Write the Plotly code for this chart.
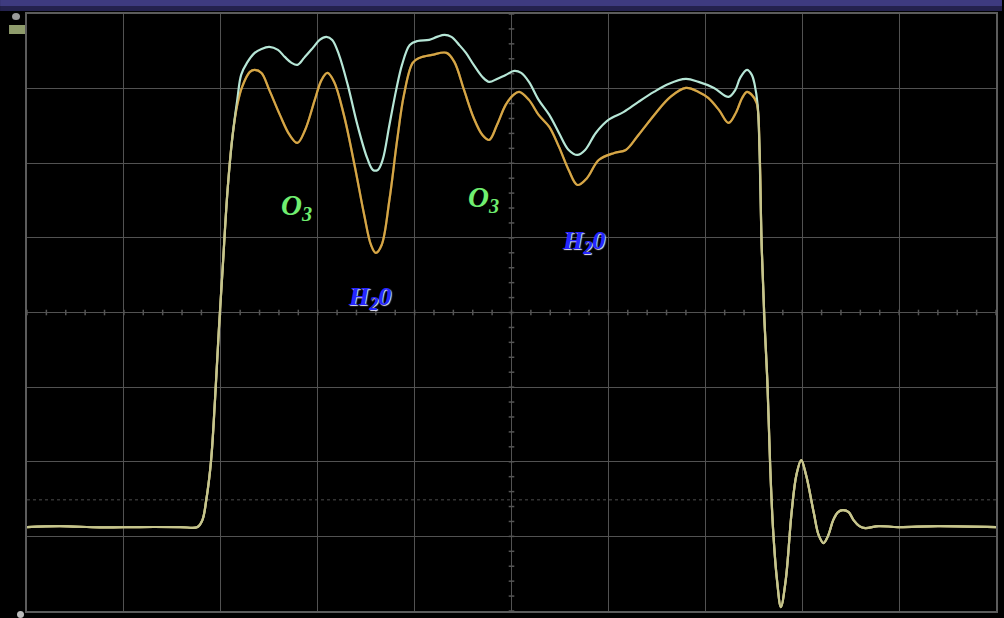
import plotly.graph_objects as go
import numpy as np

# ---- data (time in divisions 0..10, amplitude in divisions -4..4) ----
# shared baseline + rising edge (both traces coincide)
rise_x = [0.00, 0.34, 0.75, 1.16, 1.58, 1.76, 1.81, 1.85, 1.90, 1.94, 1.98, 2.02, 2.07, 2.12]
rise_y = [-2.875, -2.862, -2.880, -2.875, -2.875, -2.875, -2.782, -2.513, -1.977, -1.173,
          -0.235, 0.610, 1.642, 2.353]

# top part, lower (orange) trace
orange_x = [2.17, 2.22, 2.30, 2.35, 2.42, 2.50, 2.61, 2.71, 2.79, 2.87, 2.97, 3.04, 3.10, 3.17,
            3.27, 3.38, 3.48, 3.55, 3.60, 3.66, 3.74, 3.82, 3.89, 3.98, 4.05, 4.18, 4.33, 4.41,
            4.51, 4.61, 4.70, 4.77, 4.85, 4.94, 5.02, 5.08, 5.18, 5.28, 5.39, 5.49, 5.59, 5.68,
            5.78, 5.90, 6.06, 6.18, 6.31, 6.49, 6.64, 6.80, 6.93, 7.03, 7.14, 7.24, 7.32, 7.38,
            7.43, 7.48, 7.53]
orange_y = [2.782, 3.023, 3.224, 3.251, 3.210, 2.983, 2.648, 2.379, 2.272, 2.446, 2.849, 3.117,
            3.210, 3.090, 2.648, 1.977, 1.307, 0.905, 0.798, 0.905, 1.508, 2.312, 2.916, 3.345,
            3.412, 3.452, 3.479, 3.358, 2.983, 2.607, 2.379, 2.312, 2.513, 2.782, 2.916, 2.956,
            2.849, 2.648, 2.487, 2.219, 1.910, 1.709, 1.803, 2.044, 2.138, 2.178, 2.379, 2.674,
            2.889, 3.009, 2.956, 2.875, 2.715, 2.540, 2.688, 2.875, 2.956, 2.916, 2.808]

# top part, upper (cyan) trace
cyan_x = [2.17, 2.21, 2.27, 2.35, 2.42, 2.50, 2.59, 2.66, 2.73, 2.79, 2.86, 2.95, 3.02, 3.09,
          3.15, 3.22, 3.31, 3.41, 3.51, 3.57, 3.62, 3.67, 3.74, 3.81, 3.87, 3.95, 4.03, 4.15,
          4.23, 4.31, 4.38, 4.46, 4.53, 4.61, 4.70, 4.77, 4.85, 4.94, 5.03, 5.10, 5.18, 5.28,
          5.39, 5.49, 5.59, 5.68, 5.76, 5.87, 6.00, 6.16, 6.31, 6.47, 6.62, 6.80, 6.93, 7.09,
          7.24, 7.31, 7.36, 7.43, 7.48, 7.51, 7.54]
cyan_y = [2.849, 3.184, 3.345, 3.479, 3.532, 3.559, 3.519, 3.425, 3.345, 3.318, 3.412, 3.546,
          3.653, 3.693, 3.653, 3.452, 3.050, 2.513, 2.071, 1.910, 1.910, 2.044, 2.513, 2.983,
          3.318, 3.586, 3.639, 3.653, 3.693, 3.720, 3.693, 3.586, 3.479, 3.318, 3.157, 3.090,
          3.130, 3.184, 3.237, 3.210, 3.090, 2.849, 2.648, 2.406, 2.178, 2.111, 2.178, 2.406,
          2.580, 2.688, 2.822, 2.956, 3.063, 3.130, 3.090, 3.009, 2.889, 2.983, 3.144, 3.251,
          3.184, 3.050, 2.782]

# shared falling edge + ringing + baseline
fall_x = [7.56, 7.58, 7.61, 7.64, 7.67, 7.70, 7.74, 7.78, 7.83, 7.89, 7.94, 7.99, 8.04, 8.12,
          8.17, 8.22, 8.27, 8.32, 8.37, 8.42, 8.48, 8.53, 8.59, 8.65, 8.79, 8.99, 9.40, 10.00]
fall_y = [2.178, 0.972, -0.101, -0.905, -2.071, -2.916, -3.586, -3.948, -3.586, -2.688, -2.178,
          -1.977, -2.178, -2.688, -2.983, -3.090, -2.983, -2.782, -2.674, -2.647, -2.674, -2.782,
          -2.862, -2.889, -2.862, -2.875, -2.862, -2.875]

labels = [
    ("O<sub>3</sub>", 2.78, 1.41, "#70ee70", 29),
    ("O<sub>3</sub>", 4.71, 1.52, "#70ee70", 29),
    ("H<sub>2</sub>0", 3.53, 0.19, "#2626ff", 26),
    ("H<sub>2</sub>0", 5.74, 0.95, "#2626ff", 26),
]

YELLOW = "#d6a646"
CYAN = "#b6e6d6"

ox = rise_x + orange_x + fall_x
oy = rise_y + orange_y + fall_y
cx = rise_x + cyan_x + fall_x
cy = rise_y + cyan_y + fall_y

fig = go.Figure()
# minor ticks on centre cross
tick_pos_x = np.round(np.arange(0, 10.001, 0.2), 3)
tick_pos_y = np.round(np.arange(-4, 4.001, 0.2), 3)
fig.add_trace(go.Scatter(x=tick_pos_x, y=[0] * len(tick_pos_x), mode="markers",
                         marker=dict(symbol="line-ns", size=4, line=dict(color="#555555", width=1.5)),
                         hoverinfo="skip"))
fig.add_trace(go.Scatter(x=[5] * len(tick_pos_y), y=tick_pos_y, mode="markers",
                         marker=dict(symbol="line-ew", size=4, line=dict(color="#555555", width=1.5)),
                         hoverinfo="skip"))

fig.add_trace(go.Scatter(x=ox, y=oy, mode="lines", line=dict(color=YELLOW, width=2.2),
                         line_shape="spline"))
fig.add_trace(go.Scatter(x=cx, y=cy, mode="lines", line=dict(color=CYAN, width=2.2),
                         line_shape="spline"))
fig.add_trace(go.Scatter(x=ox, y=oy, mode="lines", line=dict(color=YELLOW, width=2.2),
                         line_shape="spline", opacity=0.5))

for txt, x, y, col, sz in labels:
    fig.add_annotation(x=x, y=y, xref="x", yref="y", text=f"<b><i>{txt}</i></b>",
                       showarrow=False,
                       font=dict(family="Liberation Serif", size=sz, color=col,
                                 shadow="1px 1px 1px #e8e8ff" if col == "#2626ff" else "none"))

# page geometry helpers (plot area 27..998 x 14..611 px)
L, T, W, H = 27, 14, 971, 597
def px(v):
    return (v - L) / W
def py(v):
    return (T + H - v) / H

shapes = [
    # faint dotted reference level
    dict(type="line", xref="x", yref="y", x0=0, x1=10, y0=-2.51, y1=-2.51,
         line=dict(color="#333333", width=1.5, dash="dot"), layer="below"),
    # top bar
    dict(type="rect", xref="paper", yref="paper", x0=px(0), x1=px(1004), y0=py(6), y1=py(0),
         fillcolor="#3e3b80", line=dict(width=0), layer="above"),
    dict(type="rect", xref="paper", yref="paper", x0=px(0), x1=px(1004), y0=py(11), y1=py(6),
         fillcolor="#24224e", line=dict(width=0), layer="above"),
    # little indicators at left
    dict(type="circle", xref="paper", yref="paper", x0=px(12), x1=px(20), y0=py(20), y1=py(13),
         fillcolor="#9a9a9a", line=dict(width=0)),
    dict(type="rect", xref="paper", yref="paper", x0=px(9), x1=px(25), y0=py(34), y1=py(25),
         fillcolor="#8f9c6c", line=dict(width=0)),
    dict(type="circle", xref="paper", yref="paper", x0=px(17), x1=px(24), y0=py(618), y1=py(611),
         fillcolor="#bbbbbb", line=dict(width=0)),
]
fig.update_layout(shapes=shapes)

axis_common = dict(showgrid=True, gridcolor="#525252", gridwidth=1, zeroline=False,
                   showticklabels=False, ticks="", showline=True, linecolor="#5c5c5c",
                   linewidth=1.5, mirror=True, dtick=1, fixedrange=True)
fig.update_xaxes(range=[0, 10], tick0=0, **axis_common)
fig.update_yaxes(range=[-4, 4], tick0=-4, **axis_common)

fig.update_layout(width=1004, height=618, margin=dict(l=L, r=1004 - L - W, t=T, b=618 - T - H),
                  paper_bgcolor="#000000", plot_bgcolor="#000000", showlegend=False)

fig.write_html("out.html")
